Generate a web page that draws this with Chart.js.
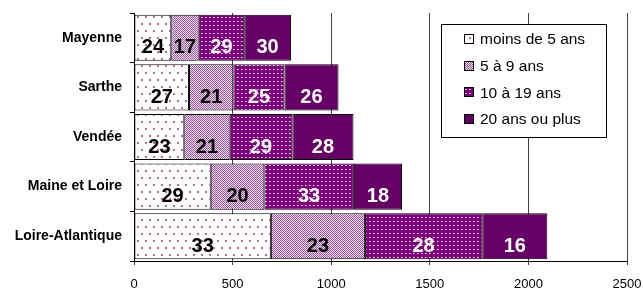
<!DOCTYPE html>
<html>
<head>
<meta charset="utf-8">
<script src="https://cdn.jsdelivr.net/npm/chart.js@4/dist/chart.umd.min.js"></script>
<style>
html,body{margin:0;padding:0;background:#fff;}
#c{display:block;}
</style>
</head>
<body>
<canvas id="c" width="643" height="289"></canvas>
<script>
// ---- data ----
const categories = ["Mayenne", "Sarthe", "Vendée", "Maine et Loire", "Loire-Atlantique"];
const seriesNames = ["moins de 5 ans", "5 à 9 ans", "10 à 19 ans", "20 ans ou plus"];
const moins5 = [189, 279, 255, 389, 694];
const ans5a9 = [139, 225, 230, 272, 477];
const ans10a19 = [231, 259, 318, 454, 595];
const ans20plus = [237, 274, 310, 244, 330];
// percentage labels shown in the bars
const pctMoins5 = [24, 27, 23, 29, 33];
const pct5a9 = [17, 21, 21, 20, 23];
const pct10a19 = [29, 25, 29, 33, 28];
const pct20plus = [30, 26, 28, 18, 16];
const xTicks = [0, 500, 1000, 1500, 2000, 2500];

const FONT = '"Liberation Sans", Arial, sans-serif';

function pattern(w, h, bg, draw) {
  const c = document.createElement('canvas');
  c.width = w; c.height = h;
  const x = c.getContext('2d');
  x.fillStyle = bg; x.fillRect(0, 0, w, h);
  draw(x);
  return x.createPattern(c, 'repeat');
}
const ctx = document.getElementById('c').getContext('2d');
const pat1 = pattern(8, 14, '#ffffff', x => {
  x.fillStyle = '#c2699c';
  x.fillRect(1, 2, 2, 2);
  x.fillRect(5, 9, 2, 2);
});
const pat2 = pattern(2, 2, '#ecdcec', x => {
  x.fillStyle = '#995599';
  x.fillRect(0, 0, 1, 1);
  x.fillRect(1, 1, 1, 1);
});
const pat3 = pattern(4, 4, '#800080', x => {
  x.fillStyle = '#ffffff';
  x.fillRect(1, 1, 1, 1);
  x.fillStyle = '#c080c0';
  x.fillRect(2, 1, 1, 1);
});
const col4 = '#660066';

const fills = [pat1, pat2, pat3, col4];
const values = [moins5, ans5a9, ans10a19, ans20plus];
const pcts = [pctMoins5, pct5a9, pct10a19, pct20plus];
const labelColors = ['#000', '#000', '#fff', '#fff'];

const dataLabels = {
  id: 'dataLabels',
  afterDatasetsDraw(chart) {
    const c = chart.ctx;
    c.save();
    c.font = 'bold 20px ' + FONT;
    c.textAlign = 'center';
    c.textBaseline = 'middle';
    chart.data.datasets.forEach((ds, i) => {
      const meta = chart.getDatasetMeta(i);
      meta.data.forEach((bar, j) => {
        const p = bar.getProps(['x', 'y', 'base'], true);
        c.fillStyle = labelColors[i];
        c.fillText(String(pcts[i][j]), (p.x + p.base) / 2, p.y + 10);
      });
    });
    c.restore();
  }
};

const boxLegend = {
  id: 'boxLegend',
  afterDraw(chart) {
    const c = chart.ctx;
    const a = chart.chartArea;
    const x0 = a.left + 307, y0 = 24, w = 165, h = 113;
    c.save();
    c.fillStyle = '#fff';
    c.fillRect(x0, y0, w, h);
    c.strokeStyle = '#000';
    c.lineWidth = 1;
    c.strokeRect(x0 + 0.5, y0 + 0.5, w, h);
    c.font = '15.5px ' + FONT;
    c.textBaseline = 'middle';
    c.textAlign = 'left';
    seriesNames.forEach((name, i) => {
      const cy = y0 + 15 + i * 26.7;
      const mx = x0 + 23;
      c.fillStyle = fills[i];
      c.fillRect(mx, Math.round(cy - 5), 10, 10);
      c.strokeStyle = '#000';
      c.strokeRect(mx + 0.5, Math.round(cy - 5) + 0.5, 9, 9);
      c.fillStyle = '#000';
      c.fillText(name, mx + 16, cy + 1);
    });
    c.restore();
  }
};

new Chart(ctx, {
  type: 'bar',
  data: {
    labels: categories,
    datasets: seriesNames.map((n, i) => ({
      label: n,
      data: values[i],
      backgroundColor: fills[i],
      borderColor: '#000',
      borderWidth: 1,
      borderSkipped: false,
      barPercentage: 0.93,
      categoryPercentage: 1
    }))
  },
  options: {
    indexAxis: 'y',
    responsive: false,
    animation: false,
    devicePixelRatio: 1,
    layout: { padding: { top: 13, right: 16, left: 0, bottom: 0 } },
    scales: {
      x: {
        stacked: true,
        min: xTicks[0],
        max: xTicks[xTicks.length - 1],
        afterBuildTicks(s) { s.ticks = xTicks.map(v => ({ value: v })); },
        afterFit(s) { s.height = 28; s.paddingRight = 0; s.paddingLeft = 0; },
        ticks: { color: '#000', font: { size: 13, family: FONT }, padding: 12, maxRotation: 0,
                 callback: v => String(v) },
        grid: { color: '#404040', lineWidth: 1, tickLength: 4 },
        border: { color: '#000', width: 1 }
      },
      y: {
        stacked: true,
        afterFit(s) { s.width = 134; s.paddingTop = 0; s.paddingBottom = 0; },
        ticks: { color: '#000', font: { size: 14, weight: 'bold', family: FONT }, padding: 8 },
        grid: { drawOnChartArea: false, tickLength: 4, color: '#000', offset: true },
        border: { color: '#000', width: 1 }
      }
    },
    plugins: {
      legend: { display: false },
      tooltip: { enabled: false }
    }
  },
  plugins: [dataLabels, boxLegend]
});
</script>
</body>
</html>
